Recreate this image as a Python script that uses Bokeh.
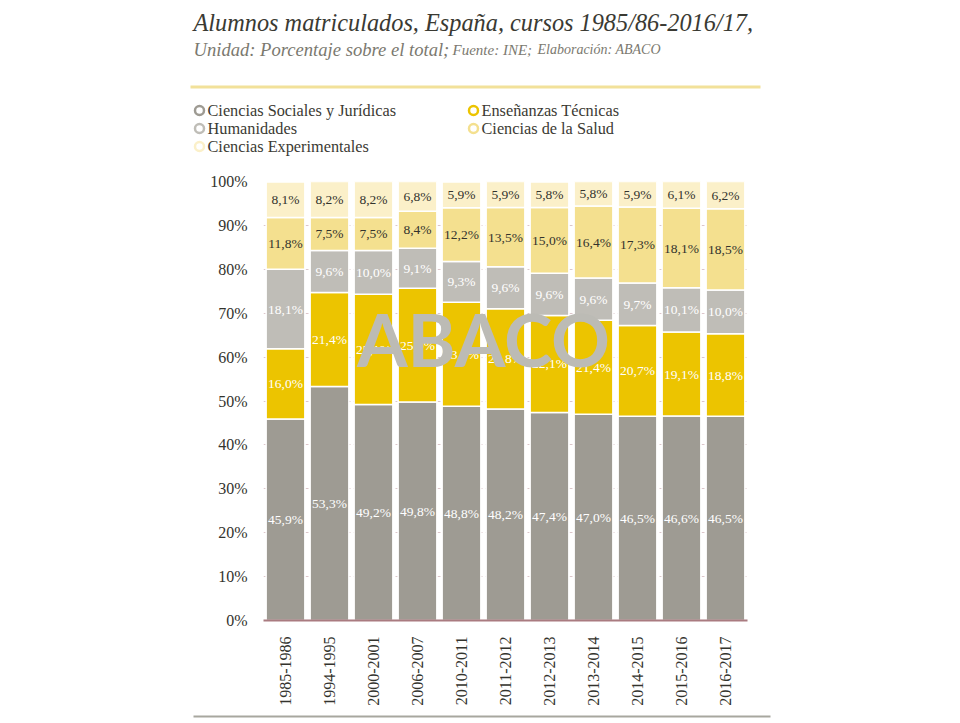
from bokeh.plotting import figure
from bokeh.layouts import column
from bokeh.models import (ColumnDataSource, Range1d, FactorRange, Label,
                          BoxAnnotation, FixedTicker)
from bokeh.embed import file_html
from bokeh.resources import INLINE
from bokeh.core.properties import value
import math

# ---------------- data ----------------
cursos = ["1985-1986", "1994-1995", "2000-2001", "2006-2007", "2010-2011", "2011-2012",
          "2012-2013", "2013-2014", "2014-2015", "2015-2016", "2016-2017"]
sociales = [45.9, 53.3, 49.2, 49.8, 48.8, 48.2, 47.4, 47.0, 46.5, 46.6, 46.5]
tecnicas = [16.0, 21.4, 25.1, 25.9, 23.7, 22.8, 22.1, 21.4, 20.7, 19.1, 18.8]
humanidades = [18.1, 9.6, 10.0, 9.1, 9.3, 9.6, 9.6, 9.6, 9.7, 10.1, 10.0]
salud = [11.8, 7.5, 7.5, 8.4, 12.2, 13.5, 15.0, 16.4, 17.3, 18.1, 18.5]
experimentales = [8.1, 8.2, 8.2, 6.8, 5.9, 5.9, 5.8, 5.8, 5.9, 6.1, 6.2]

series_keys = ["sociales", "tecnicas", "humanidades", "salud", "experimentales"]
series_names = ["Ciencias Sociales y Jurídicas", "Enseñanzas Técnicas", "Humanidades",
                "Ciencias de la Salud", "Ciencias Experimentales"]
series_values = [sociales, tecnicas, humanidades, salud, experimentales]
colors = ["#9e9b93", "#ecc400", "#bfbdb7", "#f4e08f", "#fbf0c9"]
label_colors = ["#ffffff", "#ffffff", "#ffffff", "#33332d", "#33332d"]
y_ticks = [0, 10, 20, 30, 40, 50, 60, 70, 80, 90, 100]

TITLE = "Alumnos matriculados, España, cursos 1985/86-2016/17,"
SUB1 = "Unidad: Porcentaje sobre el total;"
SUB2 = "Fuente: INE;"
SUB3 = "Elaboración: ABACO"

SERIF = "Liberation Serif"
TOP_H = 165
MAIN_H = 545
FOOT_H = 723 - TOP_H - MAIN_H


def blank(h):
    f = figure(width=960, height=h, x_range=Range1d(0, 960), y_range=Range1d(h, 0),
               output_backend="svg", toolbar_location=None,
               min_border=0, min_border_left=0, min_border_right=0,
               min_border_top=0, min_border_bottom=0,
               x_axis_type=None, y_axis_type=None, frame_align=False)
    f.outline_line_color = None
    f.grid.visible = False
    f.background_fill_color = "white"
    f.border_fill_color = "white"
    return f


# ---------------- header figure (title + legend) ----------------
top = blank(TOP_H)
top.add_layout(Label(x=193, y=22, text=TITLE, text_font=SERIF, text_font_style="italic",
                     text_font_size="24.3px", text_color="#3a3a33",
                     text_baseline="alphabetic"))
top.add_layout(Label(x=193, y=49, text=SUB1, text_font=SERIF, text_font_style="italic",
                     text_font_size="18.6px", text_color="#7b796f",
                     text_baseline="alphabetic"))
top.add_layout(Label(x=452, y=49, text=SUB2, text_font=SERIF, text_font_style="italic",
                     text_font_size="15px", text_color="#7b796f",
                     text_baseline="alphabetic"))
top.add_layout(Label(x=537, y=49, text=SUB3, text_font=SERIF, text_font_style="italic",
                     text_font_size="14px", text_color="#7b796f",
                     text_baseline="alphabetic"))
top.add_layout(BoxAnnotation(left=190, right=760, top=85, bottom=88,
                             fill_color="#f2e19a", fill_alpha=1, line_color=None))

# legend (two columns, row-major order)
leg_x = [199 + (i % 2) * 274 for i in range(len(series_names))]
leg_y = [110 + (i // 2) * 18 for i in range(len(series_names))]
top.scatter(x=leg_x, y=leg_y, marker="circle", size=9, fill_color="white",
            line_color=colors, line_width=2.5)
top.text(x=[x + 8 for x in leg_x], y=leg_y, text=series_names, text_font=value(SERIF),
         text_font_size="16.3px", text_color="#3b3a33", text_baseline="middle",
         text_align="left")

# ---------------- main chart ----------------
p = figure(x_range=FactorRange(*cursos), y_range=Range1d(0, 100),
           width=960, height=MAIN_H, output_backend="svg", toolbar_location=None,
           min_border_left=263, min_border_right=213, min_border_top=181 - TOP_H,
           min_border_bottom=TOP_H + MAIN_H - 620, frame_align=False)
p.outline_line_color = None
p.background_fill_color = "white"
p.border_fill_color = "white"
p.x_range.range_padding = 0

data = {"curso": cursos}
for k, v in zip(series_keys, series_values):
    data[k] = v
src = ColumnDataSource(data)

p.vbar_stack(series_keys, x="curso", width=0.88, color=colors, source=src,
             line_color="white", line_width=1.5)

lab_x, lab_y, lab_t, lab_c = [], [], [], []
base = [0.0] * len(cursos)
for vals, lc in zip(series_values, label_colors):
    for i, v in enumerate(vals):
        lab_x.append(cursos[i])
        lab_y.append(base[i] + v / 2)
        lab_t.append(f"{v:.1f}".replace(".", ",") + "%")
        lab_c.append(lc)
        base[i] += v
lsrc = ColumnDataSource(dict(x=lab_x, y=lab_y, t=lab_t, c=lab_c))
p.text(x="x", y="y", text="t", text_color="c", source=lsrc, text_align="center",
       text_baseline="middle", text_font=value(SERIF), text_font_size="13.5px")

p.yaxis.ticker = FixedTicker(ticks=y_ticks)
p.yaxis.major_label_overrides = {t: f"{t}%" for t in y_ticks}
p.yaxis.axis_line_color = None
p.yaxis.major_tick_line_color = None
p.yaxis.minor_tick_line_color = None
p.yaxis.major_label_text_font = SERIF
p.yaxis.major_label_text_font_size = "16px"
p.yaxis.major_label_text_color = "#33332d"
p.yaxis.major_label_standoff = 10

p.xaxis.axis_line_color = "#a97b80"
p.xaxis.axis_line_width = 2
p.xaxis.major_tick_line_color = None
p.xaxis.minor_tick_line_color = None
p.xaxis.major_label_orientation = math.pi / 2
p.xaxis.major_label_text_font = SERIF
p.xaxis.major_label_text_font_size = "16px"
p.xaxis.major_label_text_color = "#33332d"
p.xaxis.major_label_standoff = 10

p.xgrid.grid_line_color = None
p.ygrid.ticker = FixedTicker(ticks=y_ticks)
p.ygrid.grid_line_color = "#dcc6ca"
p.ygrid.grid_line_dash = "3 3"

# watermark
p.add_layout(Label(x=220, y=282, x_units="screen", y_units="screen", text="ABACO",
                   text_align="center", text_baseline="middle", text_font="Lato",
                   text_font_style="bold", text_font_size="73px", text_color="#bcbbb5"))

# ---------------- footer line ----------------
foot = blank(FOOT_H)
foot.add_layout(BoxAnnotation(left=193, right=770, top=716 - TOP_H - MAIN_H - 1,
                              bottom=716 - TOP_H - MAIN_H + 1,
                              fill_color="#a8a79f", fill_alpha=1, line_color=None))

layout = column(top, p, foot, spacing=0)
open("out.html", "w").write(file_html(layout, INLINE))
